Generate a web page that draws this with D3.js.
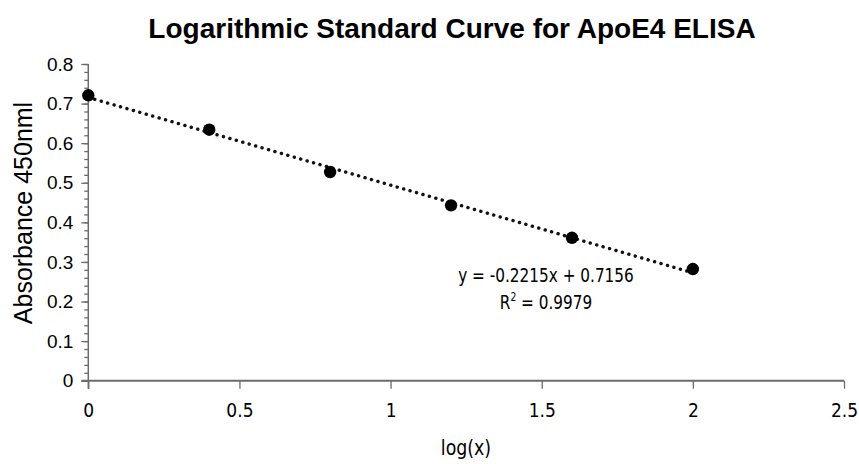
<!DOCTYPE html>
<html>
<head>
<meta charset="utf-8">
<script src="https://cdn.jsdelivr.net/npm/d3@7"></script>
<style>
  html, body { margin: 0; padding: 0; background: #fff; }
  svg { display: block; }
</style>
</head>
<body>
<svg id="chart" width="859" height="464"></svg>
<script>
// Standard curve data: log concentration vs absorbance
const logConc = [0, 0.4, 0.8, 1.2, 1.6, 2.0];
const absorbance = [0.721, 0.634, 0.527, 0.443, 0.361, 0.282];
const xTicks = [0, 0.5, 1, 1.5, 2, 2.5];
const yTicks = [0, 0.1, 0.2, 0.3, 0.4, 0.5, 0.6, 0.7, 0.8];
// Linear fit reported on the chart
const fitSlope = -0.2215;
const fitIntercept = 0.7156;
const fitR2 = 0.9979;

const svg = d3.select("#chart");
const plotLeft = 88.3, plotRight = 844, plotTop = 64, plotBottom = 380.7;

const x = d3.scaleLinear().domain([0, 2.5]).range([plotLeft, plotRight]);
const y = d3.scaleLinear().domain([0, 0.8]).range([plotBottom, plotTop]);

const axisColor = "#6b6b6b";
const sans = "'Liberation Sans', Arial, sans-serif";
const narrow = "'Liberation Sans Narrow', 'DejaVu Sans Condensed', Arial, sans-serif";

// Title
svg.append("text")
  .attr("x", 452).attr("y", 38)
  .attr("text-anchor", "middle")
  .attr("font-family", sans)
  .attr("font-weight", "bold")
  .attr("font-size", 28)
  .attr("fill", "#000")
  .text("Logarithmic Standard Curve for ApoE4 ELISA");

// Y axis: minor ticks every 0.02
const yMinor = d3.range(0, 0.8001, 0.02);
const yAxisMinor = d3.axisLeft(y).tickValues(yMinor).tickSize(4).tickFormat("");
const gYm = svg.append("g").attr("transform", `translate(${plotLeft},0)`).call(yAxisMinor);
gYm.select(".domain").remove();
gYm.selectAll("line").attr("stroke", axisColor).attr("stroke-width", 1.3);

const yAxis = d3.axisLeft(y).tickValues(yTicks).tickSize(7).tickPadding(8)
  .tickFormat(d => d === 0 ? "0" : d3.format(".1f")(d));
const gY = svg.append("g").attr("transform", `translate(${plotLeft},0)`).call(yAxis);
gY.select(".domain").attr("stroke", axisColor).attr("stroke-width", 1.5).attr("d", `M0,${plotTop}V${plotBottom + 8}`);
gY.selectAll("line").attr("stroke", axisColor).attr("stroke-width", 1.3);
gY.selectAll("text")
  .attr("font-family", sans)
  .attr("font-size", 19).attr("fill", "#000");

// X axis
const xAxis = d3.axisBottom(x).tickValues(xTicks).tickSize(8).tickPadding(15)
  .tickFormat(d => String(d));
const gX = svg.append("g").attr("transform", `translate(0,${plotBottom})`).call(xAxis);
gX.select(".domain").attr("stroke", axisColor).attr("stroke-width", 2).attr("d", `M${plotLeft - 7},0H${plotRight}`);
gX.selectAll("line").attr("stroke", axisColor).attr("stroke-width", 1.3);
gX.selectAll("text")
  .attr("font-family", narrow)
  .attr("font-size", 19).attr("fill", "#000");

// Axis titles
svg.append("text")
  .attr("transform", `translate(32,213) rotate(-90)`)
  .attr("text-anchor", "middle")
  .attr("font-family", sans)
  .attr("font-size", 25).attr("fill", "#000")
  .text("Absorbance 450nml");

svg.append("text")
  .attr("transform", "translate(466,455) scale(0.92,1)")
  .attr("text-anchor", "middle")
  .attr("font-family", narrow)
  .attr("font-size", 21).attr("fill", "#000")
  .text("log(x)");

// Trend line from the fit
const xFit = [d3.min(logConc), d3.max(logConc)];
svg.append("line")
  .attr("x1", x(xFit[0])).attr("y1", y(fitSlope * xFit[0] + fitIntercept))
  .attr("x2", x(xFit[1])).attr("y2", y(fitSlope * xFit[1] + fitIntercept))
  .attr("stroke", "#111")
  .attr("stroke-width", 3.4)
  .attr("stroke-linecap", "round")
  .attr("stroke-dasharray", "0.1 6.6");

// Data points
svg.append("g").selectAll("circle")
  .data(logConc.map((d, i) => [d, absorbance[i]]))
  .join("circle")
  .attr("cx", d => x(d[0]))
  .attr("cy", d => y(d[1]))
  .attr("r", 6.2)
  .attr("fill", "#000");

// Equation label (condensed type)
svg.append("text")
  .attr("transform", "translate(546,282) scale(0.85,1)")
  .attr("text-anchor", "middle")
  .attr("font-family", narrow)
  .attr("font-size", 20).attr("fill", "#000")
  .text(`y = ${fitSlope}x + ${fitIntercept}`);
const r2 = svg.append("text")
  .attr("transform", "translate(546,309) scale(0.85,1)")
  .attr("text-anchor", "middle")
  .attr("font-family", narrow)
  .attr("font-size", 20).attr("fill", "#000");
r2.append("tspan").text("R");
r2.append("tspan").attr("font-size", 12).attr("dy", -8).text("2");
r2.append("tspan").attr("dy", 8).text(` = ${fitR2}`);
</script>
</body>
</html>
